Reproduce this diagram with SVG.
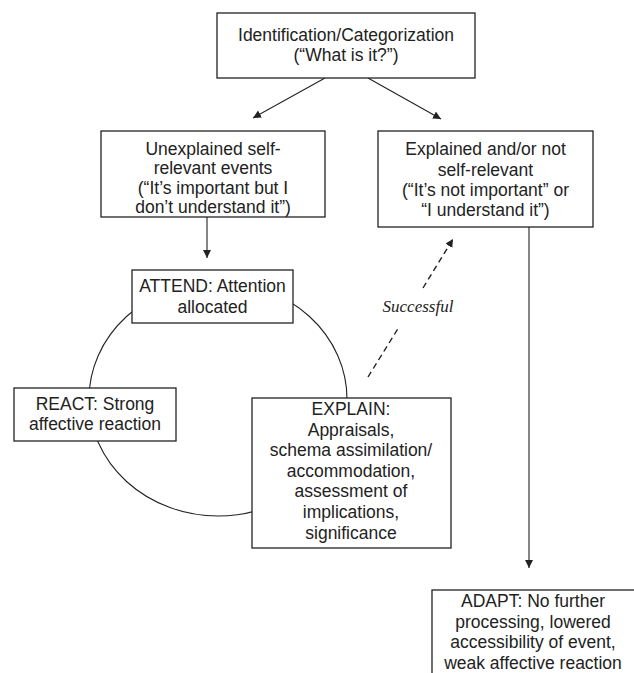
<svg xmlns="http://www.w3.org/2000/svg" width="634" height="673" viewBox="0 0 634 673">
<defs>
<style>
.box{fill:#fff;stroke:#222;stroke-width:1.3}
.t{font-family:"Liberation Sans",Arial,sans-serif;font-size:17.5px;fill:#222;text-anchor:middle}
.c{fill:none;stroke:#222;stroke-width:1.1}
.d{fill:none;stroke:#222;stroke-width:1.4;stroke-dasharray:6 4}
.lbl{font-family:"Liberation Serif","Times New Roman",serif;font-style:italic;font-size:17px;fill:#222;text-anchor:middle}
</style>
<marker id="ah" markerUnits="userSpaceOnUse" markerWidth="10" markerHeight="10" refX="8" refY="4" orient="auto">
<path d="M0,0 L8,4 L0,8 Z" fill="#222"/>
</marker>
</defs>
<rect width="634" height="673" fill="#fff"/>
<g id="connectors">
<ellipse class="c" cx="218" cy="399" rx="129" ry="117"/>
<path class="c" d="M325,78 L253,118" marker-end="url(#ah)"/>
<path class="c" d="M368,78 L441,119" marker-end="url(#ah)"/>
<path class="c" d="M207,217 L207,258" marker-end="url(#ah)"/>
<path class="c" d="M529,227 L529,568" marker-end="url(#ah)"/>
<path class="d" d="M368,377 L399,327"/>
<path class="d" d="M423,288 L453,239" marker-end="url(#ah)"/>
<text class="lbl" x="418" y="312">Successful</text>
</g>
<g id="identification">
<rect class="box" x="217" y="13" width="258" height="65"/>
<text class="t" x="346" y="41">Identification/Categorization</text>
<text class="t" x="346" y="61">(“What is it?”)</text>
</g>
<g id="unexplained">
<rect class="box" x="101" y="131" width="224" height="86"/>
<text class="t" x="213" y="155">Unexplained self-</text>
<text class="t" x="213" y="174">relevant events</text>
<text class="t" x="213" y="193.5">(“It’s important but I</text>
<text class="t" x="213" y="212.5">don’t understand it”)</text>
</g>
<g id="explained">
<rect class="box" x="378" y="131" width="215" height="96"/>
<text class="t" x="485.5" y="155">Explained and/or not</text>
<text class="t" x="485.5" y="175.5">self-relevant</text>
<text class="t" x="485.5" y="196">(“It’s not important” or</text>
<text class="t" x="485.5" y="216">“I understand it”)</text>
</g>
<g id="attend">
<rect class="box" x="132" y="270" width="161" height="53"/>
<text class="t" x="212.5" y="292">ATTEND: Attention</text>
<text class="t" x="212.5" y="313">allocated</text>
</g>
<g id="react">
<rect class="box" x="14" y="388" width="162" height="53"/>
<text class="t" x="95" y="410">REACT: Strong</text>
<text class="t" x="95" y="430">affective reaction</text>
</g>
<g id="explain">
<rect class="box" x="252" y="398" width="199" height="150"/>
<text class="t" x="351" y="415">EXPLAIN:</text>
<text class="t" x="351" y="435.5">Appraisals,</text>
<text class="t" x="351" y="456">schema assimilation/</text>
<text class="t" x="351" y="476.5">accommodation,</text>
<text class="t" x="351" y="497">assessment of</text>
<text class="t" x="351" y="518">implications,</text>
<text class="t" x="351" y="538.5">significance</text>
</g>
<g id="adapt">
<rect class="box" x="432" y="590" width="210" height="100"/>
<text class="t" x="533" y="607">ADAPT: No further</text>
<text class="t" x="533" y="627.5">processing, lowered</text>
<text class="t" x="533" y="648">accessibility of event,</text>
<text class="t" x="533" y="668.5">weak affective reaction</text>
</g>
</svg>
